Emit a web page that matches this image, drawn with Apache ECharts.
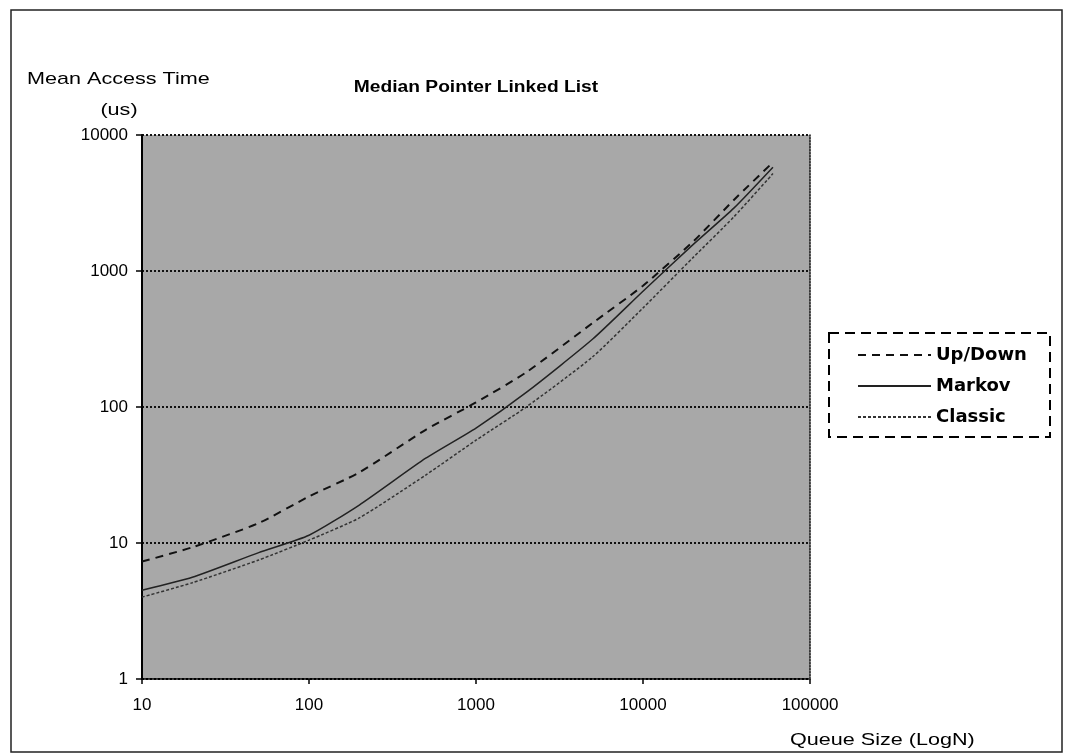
<!DOCTYPE html>
<html><head><meta charset="utf-8">
<script src="https://cdn.jsdelivr.net/npm/echarts@6/dist/echarts.min.js"></script>
<style>html,body{margin:0;padding:0;background:#fff}#c{width:1065px;height:753px}</style>
</head><body><div id="c"></div>
<script>
const chartTitle = 'Median Pointer Linked List';
const yAxisName1 = 'Mean Access Time';
const yAxisName2 = '(us)';
const xAxisName = 'Queue Size (LogN)';
const seriesNames = ['Up/Down', 'Markov', 'Classic'];
const queueSizes = [10, 20, 50, 100, 200, 500, 1000, 2000, 5000, 10000, 20000, 35000, 60000];
const upDown  = [7.3, 9.3, 14, 22, 33, 68, 108, 180, 415, 780, 1650, 3330, 6300];
const markov  = [4.5, 5.6, 8.5, 11.4, 19, 42, 70, 128, 316, 710, 1570, 2900, 5800];
const classic = [4.0, 5.1, 7.5, 10.5, 15.3, 31.6, 57, 100, 234, 535, 1260, 2500, 5200];

const pairs = vals => queueSizes.map((x, i) => [x, vals[i]]);
const chart = echarts.init(document.getElementById('c'), null, {renderer: 'canvas'});
const lab = {fontFamily: 'Liberation Sans, Arial, sans-serif', fontSize: 17, color: '#000', formatter: v => String(Math.round(v))};

chart.setOption({
  animation: false,
  backgroundColor: '#fff',
  grid: {left: 142, top: 135, width: 668, height: 544, show: true, backgroundColor: '#a8a8a8', borderWidth: 0},
  xAxis: {
    type: 'log', logBase: 10, min: 10, max: 100000,
    axisLine: {show: true, lineStyle: {color: '#000', width: 2, type: 'dotted'}},
    axisTick: {show: true, length: 5, inside: false, lineStyle: {color: '#000', width: 1.5}},
    axisLabel: Object.assign({margin: 18}, lab),
    splitLine: {show: false},
    minorTick: {show: false}
  },
  yAxis: [{
    type: 'log', logBase: 10, min: 1, max: 10000,
    axisLine: {show: true, lineStyle: {color: '#000', width: 2}},
    axisTick: {show: true, length: 6, inside: false, lineStyle: {color: '#000', width: 1.5}},
    axisLabel: Object.assign({margin: 14}, lab),
    splitLine: {show: true, lineStyle: {color: '#111', width: 2, type: 'dotted'}}
  }, {
    type: 'log', logBase: 10, min: 1, max: 10000, position: 'right',
    axisLine: {show: true, lineStyle: {color: '#111', width: 1.5, type: 'dotted'}},
    axisTick: {show: false}, axisLabel: {show: false}, splitLine: {show: false}
  }],
  legend: {
    orient: 'vertical', left: 852, top: 341, itemWidth: 73, itemHeight: 20, itemGap: 13,
    data: seriesNames,
    itemStyle: {opacity: 0},
    textStyle: {fontFamily: 'DejaVu Sans, sans-serif', fontWeight: 'bold', fontSize: 18, color: '#000', padding: [0, 0, 0, 0]}
  },
  graphic: [
    {type: 'rect', shape: {x: 11, y: 10, width: 1051, height: 742}, style: {fill: null, stroke: '#222', lineWidth: 1.5}, silent: true, z: -10},
    {type: 'rect', shape: {x: 829, y: 333, width: 221, height: 104}, style: {fill: null, stroke: '#000', lineWidth: 2, lineDash: [10, 6]}, silent: true},
    {type: 'text', x: 476, y: 88, scaleX: 1.2, style: {text: chartTitle, font: 'bold 16px Liberation Sans, Arial, sans-serif', fill: '#000', textAlign: 'center', textVerticalAlign: 'middle'}},
    {type: 'text', x: 27, y: 79, scaleX: 1.27, style: {text: yAxisName1, font: '17px Liberation Sans, Arial, sans-serif', fill: '#000', textAlign: 'left', textVerticalAlign: 'middle'}},
    {type: 'text', x: 119, y: 110, scaleX: 1.27, style: {text: yAxisName2, font: '17px Liberation Sans, Arial, sans-serif', fill: '#000', textAlign: 'center', textVerticalAlign: 'middle'}},
    {type: 'text', x: 790, y: 740, scaleX: 1.27, style: {text: xAxisName, font: '17px Liberation Sans, Arial, sans-serif', fill: '#000', textAlign: 'left', textVerticalAlign: 'middle'}}
  ],
  series: [
    {name: seriesNames[0], type: 'line', data: pairs(upDown), symbol: 'none', smooth: 0.2,
     lineStyle: {color: '#111', width: 2, type: [8, 6]}, itemStyle: {color: '#111'}},
    {name: seriesNames[1], type: 'line', data: pairs(markov), symbol: 'none', smooth: 0.2,
     lineStyle: {color: '#222', width: 1.5, type: 'solid'}, itemStyle: {color: '#222'}},
    {name: seriesNames[2], type: 'line', data: pairs(classic), symbol: 'none', smooth: 0.2,
     lineStyle: {color: '#333', width: 1.5, type: [3, 2]}, itemStyle: {color: '#333'}}
  ]
});
</script></body></html>
